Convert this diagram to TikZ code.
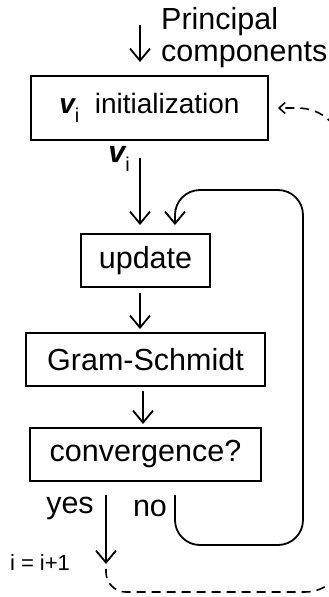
\documentclass[tikz,border=0pt]{standalone}
\usepackage{fontspec}
\setmainfont{Liberation Sans}
\usetikzlibrary{arrows.meta}
\newcommand\bigtext{\fontsize{30.5}{32}\selectfont}
\newcommand\vsub{{\bfseries\itshape v}\raisebox{-0.3em}{\fontsize{20}{20}\selectfont i}}
\tikzset{
    box/.style={draw, line width=2pt, inner sep=0pt, font=\bigtext},
    lbl/.style={inner sep=0pt, font=\bigtext},
    arr/.style={line width=1.8pt, -{Straight Barb[length=12pt,width=20pt]}},
    loopback/.style={line width=1.8pt, rounded corners=25pt, -{Straight Barb[length=12pt,width=20pt]}},
    restart/.style={line width=1.6pt, dash pattern=on 9pt off 6pt, -{Straight Barb[length=6pt,width=11pt]}}
}

\begin{document}
\begin{tikzpicture}[x=1pt,y=-1pt]
    \useasboundingbox (0,0) rectangle (329,597);
    \clip (0,0) rectangle (329,597);
    % boxes
    \node[box, minimum width=237pt, minimum height=64pt, font=\fontsize{28}{30}\selectfont] (init) at (149.5,108)
        {\vsub\hspace{0.55em}initialization};
    \node[box, minimum width=129pt, minimum height=53pt] (upd) at (145.5,260.5) {update};
    \node[box, minimum width=239pt, minimum height=53pt] (gs) at (145.5,359.5) {Gram-Schmidt};
    \node[box, minimum width=231pt, minimum height=53pt] (conv) at (145.5,454.5) {convergence?};
    % labels
    \node[lbl, anchor=west, align=left] (pc) at (161,38) {Principal\\components};
    \node[lbl] (vi) at (119,159) {\vsub};
    \node[lbl] (yes) at (70,508) {yes};
    \node[lbl] (no) at (150,508) {no};
    \node[inner sep=0pt, font=\fontsize{22}{24}\selectfont] (incr) at (40,563) {i = i+1};
    % arrow positions
    \coordinate (pcs) at (140,25);
    \coordinate (vtop) at (140,158);
    \coordinate (cx) at (143,400);
    \coordinate (inc) at (106,564);
    \coordinate (back) at (175,226);
    % straight arrows
    \draw[arr, shorten >=13pt] (pcs) -- (pcs |- init.north);
    \draw[arr, shorten >=8pt] (vtop) -- (vtop |- upd.north);
    \draw[arr, shorten <=5pt, shorten >=3pt] (upd.south -| vtop) -- (gs.north -| vtop);
    \draw[arr, shorten <=4pt, shorten >=3pt] (gs.south -| cx) -- (conv.north -| cx);
    \draw[arr, shorten <=13pt] (conv.south -| inc) -- (inc);
    % no: back to update
    \draw[loopback, shorten >=8pt] ([yshift=-13pt]conv.south -| back) -- (back |- 0,545)
        -- (303,545) -- (303,190) -- (back |- 0,190) -- (back |- upd.north);
    % next component
    \draw[restart, shorten >=9pt] ([yshift=-5pt]inc) -- (106,572) to[out=-90,in=180] (126,592)
        -- (305,592) to[out=0,in=-90] (345,552) -- (345,165)
        .. controls (345,125) and (322,108) .. (297,108) -- (init.east);
\end{tikzpicture}
\end{document}
